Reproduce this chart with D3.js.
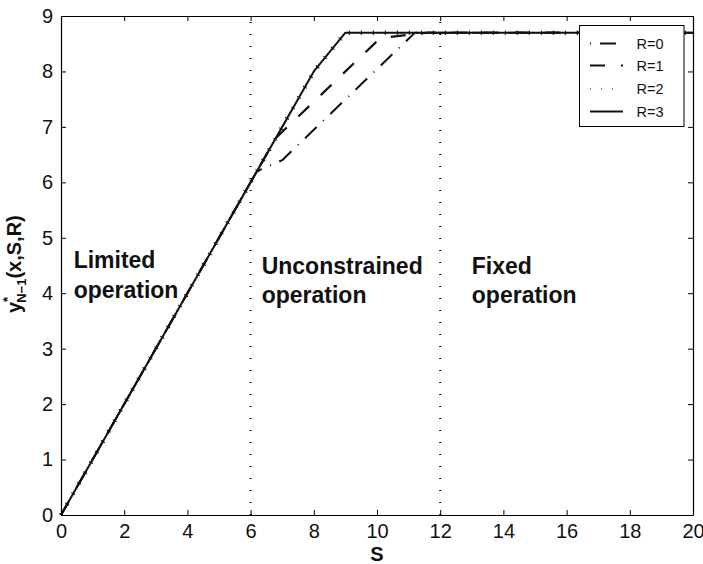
<!DOCTYPE html>
<html>
<head>
<meta charset="utf-8">
<script src="https://cdn.jsdelivr.net/npm/d3@7"></script>
<style>
  html, body { margin: 0; padding: 0; background: #fff; }
  svg { display: block; font-family: "Liberation Sans", Arial, Helvetica, sans-serif; }
</style>
</head>
<body>
<svg id="chart" width="703" height="564"></svg>
<script>
// ---- Data ----
const xTicks = [0, 2, 4, 6, 8, 10, 12, 14, 16, 18, 20];
const yTicks = [0, 1, 2, 3, 4, 5, 6, 7, 8, 9];

const sR0 = [0, 6.2, 7.0, 11.2, 20];
const yR0 = [0, 6.2, 6.4, 8.7, 8.7];
const sR1 = [0, 6.8, 10.1, 11.6, 20];
const yR1 = [0, 6.8, 8.6, 8.7, 8.7];
const sR2 = [0, 8, 9, 20];
const yR2 = [0, 8, 8.7, 8.7];
const sR3 = [0, 8, 9, 20];
const yR3 = [0, 8, 8.7, 8.7];

const seriesNames = ["R=0", "R=1", "R=2", "R=3"];
const regionBounds = [6, 12];
const regionLabels = [["Limited", "operation"], ["Unconstrained", "operation"], ["Fixed", "operation"]];
const regionLabelS = [0.4, 6.35, 13.0];
const regionLabelY = [4.45, 4.35, 4.35];

// ---- Layout ----
const svg = d3.select("#chart");
const x = d3.scaleLinear().domain([0, 20]).range([61, 693]);
const y = d3.scaleLinear().domain([0, 9]).range([515, 16]);

const styles = [
  { dash: "16,9,1,9", width: 2, legendOffset: 25 },
  { dash: "15,16", width: 2.2, legendOffset: 0 },
  { dash: "1,11", width: 4.5, legendDash: "1,10", legendWidth: 1.2, legendOffset: 0 },
  { dash: null, width: 2, legendOffset: 0 }
];
const data = [
  d3.zip(sR0, yR0), d3.zip(sR1, yR1), d3.zip(sR2, yR2), d3.zip(sR3, yR3)
];

// region dotted lines
svg.append("g").selectAll("line").data(regionBounds).join("line")
  .attr("x1", d => x(d)).attr("x2", d => x(d))
  .attr("y1", y(0)).attr("y2", y(9))
  .attr("stroke", "#000").attr("stroke-width", 2)
  .attr("stroke-dasharray", "1,11");

// series
const line = d3.line().x(d => x(d[0])).y(d => y(d[1]));
const drawOrder = [0, 1, 3, 2];
const gLines = svg.append("g");
drawOrder.forEach(i => {
  gLines.append("path")
    .attr("d", line(data[i]))
    .attr("fill", "none")
    .attr("stroke", "#111")
    .attr("stroke-width", styles[i].width)
    .attr("stroke-dasharray", styles[i].dash)
    .attr("stroke-linejoin", "round");
});

// region labels
regionLabels.forEach((lines, i) => {
  const t = svg.append("text")
    .attr("x", x(regionLabelS[i]))
    .attr("y", y(regionLabelY[i]))
    .attr("font-size", 23).attr("font-weight", "bold").attr("fill", "#111");
  lines.forEach((l, j) => {
    t.append("tspan").attr("x", x(regionLabelS[i])).attr("dy", j === 0 ? 0 : 29.5).text(l);
  });
});

// axes
const tickFont = 20;
const gx = svg.append("g").attr("transform", `translate(0,${y(0)})`)
  .call(d3.axisBottom(x).tickValues(xTicks).tickSizeInner(-5).tickSizeOuter(0).tickPadding(8.5));
const gy = svg.append("g").attr("transform", `translate(${x(0)},0)`)
  .call(d3.axisLeft(y).tickValues(yTicks).tickSizeInner(-5).tickSizeOuter(0).tickPadding(8));
const gt = svg.append("g").attr("transform", `translate(0,${y(9)})`)
  .call(d3.axisTop(x).tickValues(xTicks).tickSizeInner(-5).tickSizeOuter(0).tickFormat(""));
const gr = svg.append("g").attr("transform", `translate(${x(20)},0)`)
  .call(d3.axisRight(y).tickValues(yTicks).tickSizeInner(-5).tickSizeOuter(0).tickFormat(""));
[gx, gy, gt, gr].forEach(g => {
  g.selectAll(".domain").attr("stroke", "#000").attr("stroke-width", 1.2);
  g.selectAll(".tick line").attr("stroke", "#000").attr("stroke-width", 1);
  g.selectAll(".tick text").attr("font-size", tickFont).attr("fill", "#111")
    .attr("font-family", "\"Liberation Sans\", Arial, sans-serif");
});

// axis labels
svg.append("text")
  .attr("x", x(10)).attr("y", 561)
  .attr("text-anchor", "middle")
  .attr("font-size", 20).attr("font-weight", "bold").attr("fill", "#111")
  .text("S");

const yl = svg.append("text")
  .attr("transform", "translate(20.5,313) rotate(-90)")
  .attr("font-size", 20).attr("font-weight", "bold").attr("fill", "#111");
yl.append("tspan").text("y");
yl.append("tspan").attr("font-size", 13).attr("dy", -9).text("*");
yl.append("tspan").attr("font-size", 13).attr("dx", -6).attr("dy", 14).text("N\u22121");
yl.append("tspan").attr("dy", -5).text("(x,S,R)");

// legend
const lg = svg.append("g");
lg.append("rect")
  .attr("x", 579.5).attr("y", 25.5).attr("width", 104.5).attr("height", 101)
  .attr("fill", "#fff").attr("stroke", "#000").attr("stroke-width", 1);
const legendY = [43.5, 65.5, 89, 111.5];
seriesNames.forEach((name, i) => {
  const st = styles[i];
  lg.append("line")
    .attr("x1", 590).attr("x2", 623)
    .attr("y1", legendY[i]).attr("y2", legendY[i])
    .attr("stroke", "#111")
    .attr("stroke-width", st.legendWidth || st.width)
    .attr("stroke-dasharray", st.legendDash || st.dash)
    .attr("stroke-dashoffset", st.legendOffset);
  lg.append("text")
    .attr("x", 636.5).attr("y", legendY[i] + 5.3)
    .attr("font-size", 14.5).attr("fill", "#111")
    .text(name);
});
</script>
</body>
</html>
